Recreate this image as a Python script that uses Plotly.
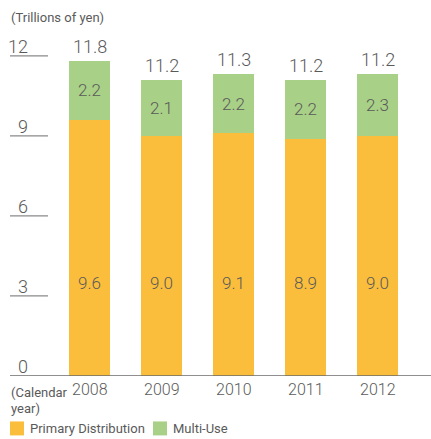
import plotly.graph_objects as go

# Market size by calendar year, trillions of yen
years = ["2008", "2009", "2010", "2011", "2012"]
primary = [9.6, 9.0, 9.1, 8.9, 9.0]
multi_use = [2.2, 2.1, 2.2, 2.2, 2.3]
totals = ["11.8", "11.2", "11.3", "11.2", "11.2"]
y_ticks = [0, 3, 6, 9, 12]

W, H = 431, 439
ZERO_PX = 376.5          # pixel row of the baseline
PX_PER_UNIT = 26.72      # vertical scale
BAR_STEP = 72            # px between bar centres
FIRST_CENTRE = 89.5      # px of first bar centre

ORANGE = "#FBBE3C"
GREEN = "#A9D087"
TEXT = "#5a5a5a"
NUM_FONT = "Roboto"
LBL_FONT = "Roboto"

x = list(range(len(years)))


def py(px):
    """Convert a pixel row (from top) into paper y."""
    return (ZERO_PX - px) / ZERO_PX


def pxx(px):
    return px / W


fig = go.Figure()
fig.add_bar(x=x, y=primary, name="Primary Distribution", marker_color=ORANGE,
            marker_line_width=0, width=41 / BAR_STEP, showlegend=False)
fig.add_bar(x=x, y=multi_use, name="Multi-Use", marker_color=GREEN,
            marker_line_width=0, width=41 / BAR_STEP, showlegend=False)

ann = []
shapes = []

# value labels
for i, (p, m, t) in enumerate(zip(primary, multi_use, totals)):
    ann.append(dict(x=i, y=3.5, xref="x", yref="y", text=f"{p:.1f}",
                    showarrow=False, font=dict(family=NUM_FONT, size=17, color=TEXT, weight=300)))
    ann.append(dict(x=i, y=p + m / 2, xref="x", yref="y", text=f"{m:.1f}",
                    showarrow=False, font=dict(family=NUM_FONT, size=17, color=TEXT, weight=300)))
    ann.append(dict(x=i, y=p + m, xref="x", yref="y", text=t, yanchor="bottom", yshift=2,
                    showarrow=False, font=dict(family=NUM_FONT, size=18, color=TEXT, weight=300)))
    # category labels
    ann.append(dict(x=i, y=py(390), xref="x", yref="paper", text=years[i], yanchor="middle",
                    showarrow=False, font=dict(family=LBL_FONT, size=16, color=TEXT, weight=300)))

# y-axis ticks: short rules with numbers above them
for v in y_ticks:
    if v:
        shapes.append(dict(type="line", xref="paper", yref="y", x0=pxx(10), x1=pxx(48),
                           y0=v, y1=v, line=dict(color="#8a8a8a", width=1.2)))
    ann.append(dict(x=pxx(30), y=v, xref="paper", yref="y", text=str(v), xanchor="right",
                    yanchor="bottom", yshift=-3, showarrow=False,
                    font=dict(family=NUM_FONT, size=18, color=TEXT, weight=300)))

# baseline
shapes.append(dict(type="line", xref="paper", yref="y", x0=pxx(10), x1=1, y0=0, y1=0,
                   line=dict(color="#6a6a6a", width=1.5)))

# unit and axis captions
ann.append(dict(x=pxx(9), y=py(17.5), xref="paper", yref="paper", text="(Trillions of yen)",
                xanchor="left", yanchor="middle", showarrow=False,
                font=dict(family=LBL_FONT, size=13, color=TEXT)))
ann.append(dict(x=pxx(9), y=py(393), xref="paper", yref="paper", text="(Calendar",
                xanchor="left", yanchor="middle", showarrow=False,
                font=dict(family=LBL_FONT, size=13, color=TEXT)))
ann.append(dict(x=pxx(9), y=py(409), xref="paper", yref="paper", text="year)",
                xanchor="left", yanchor="middle", showarrow=False,
                font=dict(family=LBL_FONT, size=13, color=TEXT)))

# legend
for x0, col, label in [(10, ORANGE, "Primary Distribution"), (153, GREEN, "Multi-Use")]:
    shapes.append(dict(type="rect", xref="paper", yref="paper", x0=pxx(x0), x1=pxx(x0 + 14),
                       y0=py(422), y1=py(436), fillcolor=col, line=dict(width=0)))
    ann.append(dict(x=pxx(x0 + 18), y=py(429), xref="paper", yref="paper", text=label,
                    xanchor="left", yanchor="middle", showarrow=False,
                    font=dict(family=LBL_FONT, size=13, color=TEXT)))

fig.update_layout(
    width=W, height=H,
    margin=dict(l=0, r=0, t=0, b=H - ZERO_PX),
    barmode="stack",
    plot_bgcolor="white", paper_bgcolor="white",
    xaxis=dict(range=[-FIRST_CENTRE / BAR_STEP, (W - FIRST_CENTRE) / BAR_STEP],
               showticklabels=False, showgrid=False, zeroline=False, fixedrange=True),
    yaxis=dict(range=[0, ZERO_PX / PX_PER_UNIT], showticklabels=False, showgrid=False,
               zeroline=False, fixedrange=True),
    annotations=ann,
    shapes=shapes,
)

fig.write_html("out.html", config={"displayModeBar": False})
